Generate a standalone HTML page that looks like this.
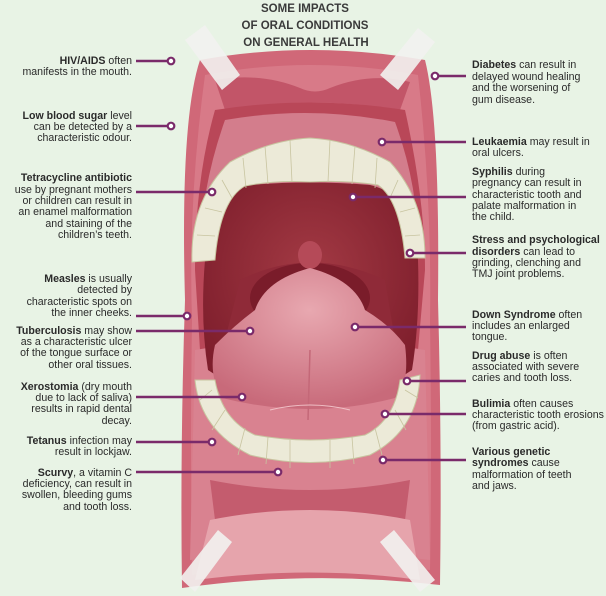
<!DOCTYPE html>
<html><head><meta charset="utf-8"><style>
html,body{margin:0;padding:0;}
body{width:606px;height:596px;overflow:hidden;background:#e8f3e5;font-family:"Liberation Sans",sans-serif;}
svg{position:absolute;left:0;top:0;}
.t{font-size:10.6px;fill:#2a2a2a;}
.t tspan.b{font-weight:bold;}
</style></head><body>
<svg width="606" height="596" viewBox="0 0 606 596" xmlns="http://www.w3.org/2000/svg">
<defs>
<radialGradient id="cav" cx="0.5" cy="0.4" r="0.6"><stop offset="0" stop-color="#a33a44"/><stop offset="1" stop-color="#7e1e2c"/></radialGradient>
<radialGradient id="tong" cx="0.5" cy="0.3" r="0.7"><stop offset="0" stop-color="#e8a8b0"/><stop offset="1" stop-color="#c86a7a"/></radialGradient>
</defs>
<rect width="606" height="596" fill="#e8f3e5"/>
<path d="M200 60 Q310 40 425 60 Q440 120 438 300 Q442 450 440 585 Q310 570 182 588 Q180 450 185 300 Q180 120 200 60Z" fill="#d06878"/>
<path d="M205 75 Q310 55 418 75 Q432 200 430 320 Q432 460 430 570 Q310 555 192 575 Q190 460 192 320 Q188 200 205 75Z" fill="#d87a88"/>
<path d="M215 80 Q260 72 300 88 Q315 95 330 88 Q370 72 410 82 L400 110 Q310 95 225 110Z" fill="#c25568"/>
<path d="M215 110 Q310 95 405 110 Q425 200 425 270 L418 350 Q310 330 200 350 L195 270 Q195 180 215 110Z" fill="#b94758"/>
<path d="M225 120 Q310 105 395 122 Q420 190 418 260 L200 260 Q200 190 225 120Z" fill="#d37d8c"/>
<path d="M195 350 Q310 330 425 350 L430 560 Q310 545 190 560Z" fill="#d98290"/>
<path d="M210 480 Q310 500 410 480 L405 520 Q310 540 215 520Z" fill="#c45c6e"/>
<path d="M210 520 Q310 500 410 520 L420 580 Q310 565 195 580Z" fill="#e6a4ac"/>
<path d="M205 260 Q205 190 250 185 Q310 180 370 185 Q415 195 418 260 Q420 320 412 370 Q310 440 208 370 Q200 320 205 260Z" fill="url(#cav)"/>
<path d="M240 280 Q310 245 385 280 L395 340 L225 340Z" fill="#8f2a38"/>
<ellipse cx="310" cy="298" rx="60" ry="35" fill="#7a1c2a"/>
<ellipse cx="310" cy="255" rx="12" ry="14" fill="#b54a58"/>
<path d="M215 345 Q235 325 255 310 Q265 280 310 268 Q355 280 365 310 Q390 325 405 345 Q410 385 395 398 Q310 420 222 398 Q208 375 215 345Z" fill="url(#tong)"/>
<path d="M310 350 L308 420" stroke="#c46878" stroke-width="1.5"/>
<path d="M270 410 Q310 400 350 410" stroke="#f0c0c6" stroke-width="1" fill="none"/>
<path d="M192 262 Q190 200 230 162 Q270 140 310 138 Q350 140 390 162 Q425 200 425 258 L405 258 Q400 200 378 185 Q345 180 310 182 Q275 180 245 186 Q220 200 215 260Z" fill="#ecead8" stroke="#c8c4a0" stroke-width="1"/>
<g stroke="#c8c4a0" stroke-width="0.8" fill="none">
<path d="M290 140 L292 182 M330 140 L328 182 M265 146 L268 184 M355 146 L352 184 M243 158 L246 188 M377 158 L375 188 M222 180 L232 198 M398 180 L390 198 M205 208 L222 212 M415 208 L400 212 M197 235 L215 236 M420 235 L405 236"/>
</g>
<path d="M195 380 Q200 430 250 455 Q310 470 370 455 Q418 430 420 375 L400 380 Q395 420 365 435 Q310 445 255 435 Q222 420 215 380Z" fill="#ecead8" stroke="#c8c4a0" stroke-width="1"/>
<g stroke="#c8c4a0" stroke-width="0.8" fill="none">
<path d="M290 440 L290 468 M330 440 L330 468 M268 437 L266 464 M352 437 L354 464 M245 428 L238 455 M375 428 L382 455 M225 410 L212 430 M395 410 L406 430 M212 390 L200 400 M405 390 L418 398"/>
</g>
<g fill="#f2f2f0" opacity="0.9">
<polygon points="185,40 205,25 240,75 222,90"/>
<polygon points="380,75 418,28 435,42 398,90"/>
<polygon points="180,578 218,530 232,542 195,592"/>
<polygon points="380,542 394,530 435,580 420,592"/>
</g>
<g font-weight="bold" font-size="11.5px" fill="#3a3a3a" text-anchor="middle">
<text x="305" y="12">SOME IMPACTS</text>
<text x="305" y="29">OF ORAL CONDITIONS</text>
<text x="306" y="46">ON GENERAL HEALTH</text>
</g>
<g stroke="#7a2a6a" stroke-width="2.5" fill="none">
<path d="M136 61 H171"/><path d="M136 126 H171"/><path d="M136 192 H212"/>
<path d="M136 316 H187"/><path d="M136 331 H250"/><path d="M136 397 H242"/>
<path d="M136 442 H212"/><path d="M136 472 H278"/>
<path d="M435 76 H466"/><path d="M382 142 H466"/><path d="M353 197 H466"/>
<path d="M410 253 H466"/><path d="M355 327 H466"/><path d="M407 381 H466"/>
<path d="M385 414 H466"/><path d="M383 460 H466"/>
</g>
<g fill="#fff" stroke="#7a2a6a" stroke-width="2.2">
<circle cx="171" cy="61" r="3.3"/><circle cx="171" cy="126" r="3.3"/><circle cx="212" cy="192" r="3.3"/>
<circle cx="187" cy="316" r="3.3"/><circle cx="250" cy="331" r="3.3"/><circle cx="242" cy="397" r="3.3"/>
<circle cx="212" cy="442" r="3.3"/><circle cx="278" cy="472" r="3.3"/>
<circle cx="435" cy="76" r="3.3"/><circle cx="382" cy="142" r="3.3"/><circle cx="353" cy="197" r="3.3"/>
<circle cx="410" cy="253" r="3.3"/><circle cx="355" cy="327" r="3.3"/><circle cx="407" cy="381" r="3.3"/>
<circle cx="385" cy="414" r="3.3"/><circle cx="383" cy="460" r="3.3"/>
</g>
<g class="t" text-anchor="end">
<text x="132" y="64"><tspan class="b">HIV/AIDS</tspan> often</text>
<text x="132" y="75">manifests in the mouth.</text>
<text x="132" y="119"><tspan class="b">Low blood sugar</tspan> level</text>
<text x="132" y="130">can be detected by a</text>
<text x="132" y="141">characteristic odour.</text>
<text x="132" y="181"><tspan class="b">Tetracycline antibiotic</tspan></text>
<text x="132" y="193">use by pregnant mothers</text>
<text x="132" y="204">or children can result in</text>
<text x="132" y="215">an enamel malformation</text>
<text x="132" y="227">and staining of the</text>
<text x="132" y="238">children’s teeth.</text>
<text x="132" y="282"><tspan class="b">Measles</tspan> is usually</text>
<text x="132" y="293">detected by</text>
<text x="132" y="305">characteristic spots on</text>
<text x="132" y="316">the inner cheeks.</text>
<text x="132" y="334"><tspan class="b">Tuberculosis</tspan> may show</text>
<text x="132" y="345">as a characteristic ulcer</text>
<text x="132" y="356">of the tongue surface or</text>
<text x="132" y="368">other oral tissues.</text>
<text x="132" y="390"><tspan class="b">Xerostomia</tspan> (dry mouth</text>
<text x="132" y="401">due to lack of saliva)</text>
<text x="132" y="412">results in rapid dental</text>
<text x="132" y="424">decay.</text>
<text x="132" y="444"><tspan class="b">Tetanus</tspan> infection may</text>
<text x="132" y="455">result in lockjaw.</text>
<text x="132" y="476"><tspan class="b">Scurvy</tspan>, a vitamin C</text>
<text x="132" y="487">deficiency, can result in</text>
<text x="132" y="498">swollen, bleeding gums</text>
<text x="132" y="510">and tooth loss.</text>
</g>
<g class="t">
<text x="472" y="68"><tspan class="b">Diabetes</tspan> can result in</text>
<text x="472" y="80">delayed wound healing</text>
<text x="472" y="91">and the worsening of</text>
<text x="472" y="103">gum disease.</text>
<text x="472" y="145"><tspan class="b">Leukaemia</tspan> may result in</text>
<text x="472" y="156">oral ulcers.</text>
<text x="472" y="175"><tspan class="b">Syphilis</tspan> during</text>
<text x="472" y="186">pregnancy can result in</text>
<text x="472" y="198">characteristic tooth and</text>
<text x="472" y="209">palate malformation in</text>
<text x="472" y="220">the child.</text>
<text x="472" y="243"><tspan class="b">Stress and psychological</tspan></text>
<text x="472" y="255"><tspan class="b">disorders</tspan> can lead to</text>
<text x="472" y="266">grinding, clenching and</text>
<text x="472" y="277">TMJ joint problems.</text>
<text x="472" y="318"><tspan class="b">Down Syndrome</tspan> often</text>
<text x="472" y="329">includes an enlarged</text>
<text x="472" y="340">tongue.</text>
<text x="472" y="359"><tspan class="b">Drug abuse</tspan> is often</text>
<text x="472" y="370">associated with severe</text>
<text x="472" y="381">caries and tooth loss.</text>
<text x="472" y="407"><tspan class="b">Bulimia</tspan> often causes</text>
<text x="472" y="418">characteristic tooth erosions</text>
<text x="472" y="429">(from gastric acid).</text>
<text x="472" y="455"><tspan class="b">Various genetic</tspan></text>
<text x="472" y="466"><tspan class="b">syndromes</tspan> cause</text>
<text x="472" y="478">malformation of teeth</text>
<text x="472" y="489">and jaws.</text>
</g>
</svg>
</body></html>
